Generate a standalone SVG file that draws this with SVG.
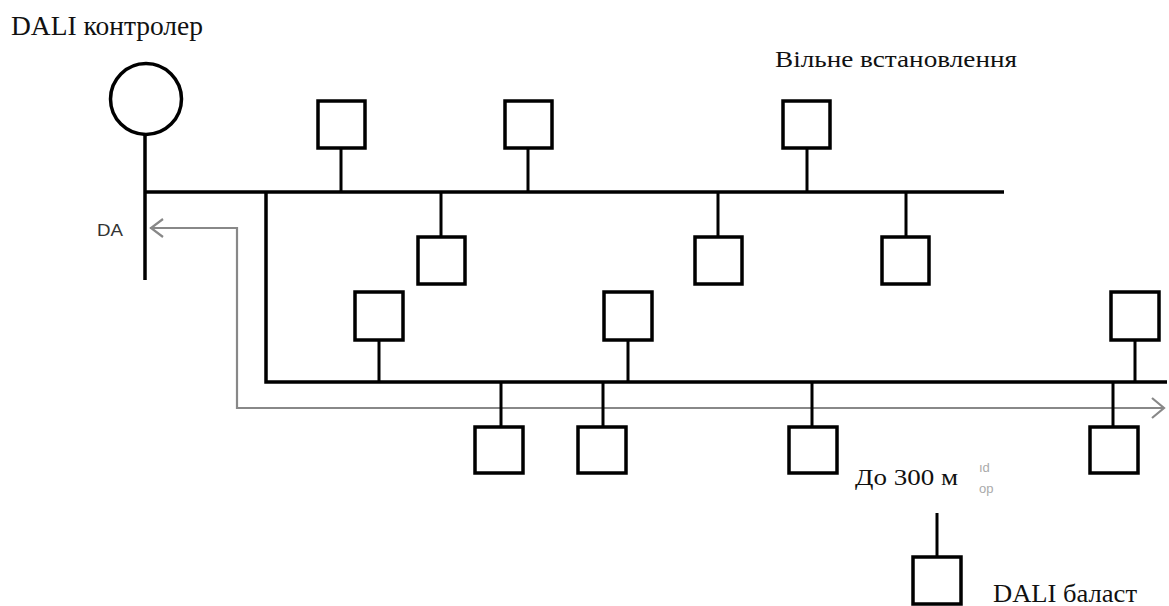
<svg xmlns="http://www.w3.org/2000/svg" width="1169" height="606" viewBox="0 0 1169 606">
<style>
.bus{stroke:#000;stroke-width:3.5;fill:none}
.stem{stroke:#000;stroke-width:3;fill:none}
.box{fill:#fff;stroke:#000;stroke-width:3.5}
.ser{font-family:"Liberation Serif","DejaVu Serif",serif;fill:#111}
.sans{font-family:"Liberation Sans",Arial,sans-serif;fill:#333}
.arr{stroke:#888;stroke-width:2.2;fill:none}
</style>
<rect width="1169" height="606" fill="#fff"/>
<g id="labels">
<text class="ser" x="11" y="35" font-size="27" textLength="192" lengthAdjust="spacingAndGlyphs">DALI контролер</text>
<text class="ser" x="775" y="67" font-size="23" textLength="242" lengthAdjust="spacingAndGlyphs">Вільне встановлення</text>
<text class="sans" x="97" y="236" font-size="16" textLength="26" lengthAdjust="spacingAndGlyphs">DA</text>
<text class="ser" x="855" y="485" font-size="24" textLength="103" lengthAdjust="spacingAndGlyphs">До 300 м</text>
<text class="sans" x="979" y="472" font-size="13" style="fill:#aaa">ıd</text>
<text class="sans" x="979" y="493" font-size="13" style="fill:#aaa">op</text>
<text class="ser" x="993" y="602" font-size="26" textLength="144" lengthAdjust="spacingAndGlyphs">DALI баласт</text>
</g>
<g id="connectors">
<path class="arr" d="M150,228 H237 V408 H1164"/>
<path class="arr" d="M163,219 L151,228 L163,237"/>
<path class="arr" d="M1152,398 L1164,408 L1152,418"/>
<path class="bus" d="M145,135 V280"/>
<path class="bus" d="M145,192 H1004"/>
<path class="bus" d="M266,192 V382 H1167"/>
<path class="stem" d="M341,148 V192 M528,148 V192 M807,148 V192"/>
<path class="stem" d="M441,192 V237 M718,192 V237 M906,192 V237"/>
<path class="stem" d="M379,340 V382 M628,340 V382 M1135,340 V382"/>
<path class="stem" d="M501,382 V427 M603,382 V427 M812,382 V427 M1113,382 V427"/>
<path class="stem" d="M937,513 V557"/>
</g>
<g id="controller"><circle cx="146" cy="99" r="35.5" fill="#fff" stroke="#000" stroke-width="3.5"/></g>
<g id="n1"><rect class="box" x="318" y="101" width="47" height="47"/></g>
<g id="n2"><rect class="box" x="505" y="101" width="47" height="47"/></g>
<g id="n3"><rect class="box" x="783" y="101" width="47" height="47"/></g>
<g id="n4"><rect class="box" x="418" y="237" width="47" height="47"/></g>
<g id="n5"><rect class="box" x="695" y="237" width="47" height="47"/></g>
<g id="n6"><rect class="box" x="882" y="237" width="47" height="47"/></g>
<g id="n7"><rect class="box" x="355" y="292" width="48" height="48"/></g>
<g id="n8"><rect class="box" x="604" y="292" width="48" height="48"/></g>
<g id="n9"><rect class="box" x="1111" y="292" width="48" height="48"/></g>
<g id="n10"><rect class="box" x="475" y="427" width="48" height="46"/></g>
<g id="n11"><rect class="box" x="578" y="427" width="48" height="46"/></g>
<g id="n12"><rect class="box" x="789" y="427" width="48" height="46"/></g>
<g id="n13"><rect class="box" x="1090" y="427" width="48" height="46"/></g>
<g id="legend-ballast"><rect class="box" x="913" y="557" width="48" height="47"/></g>
</svg>
